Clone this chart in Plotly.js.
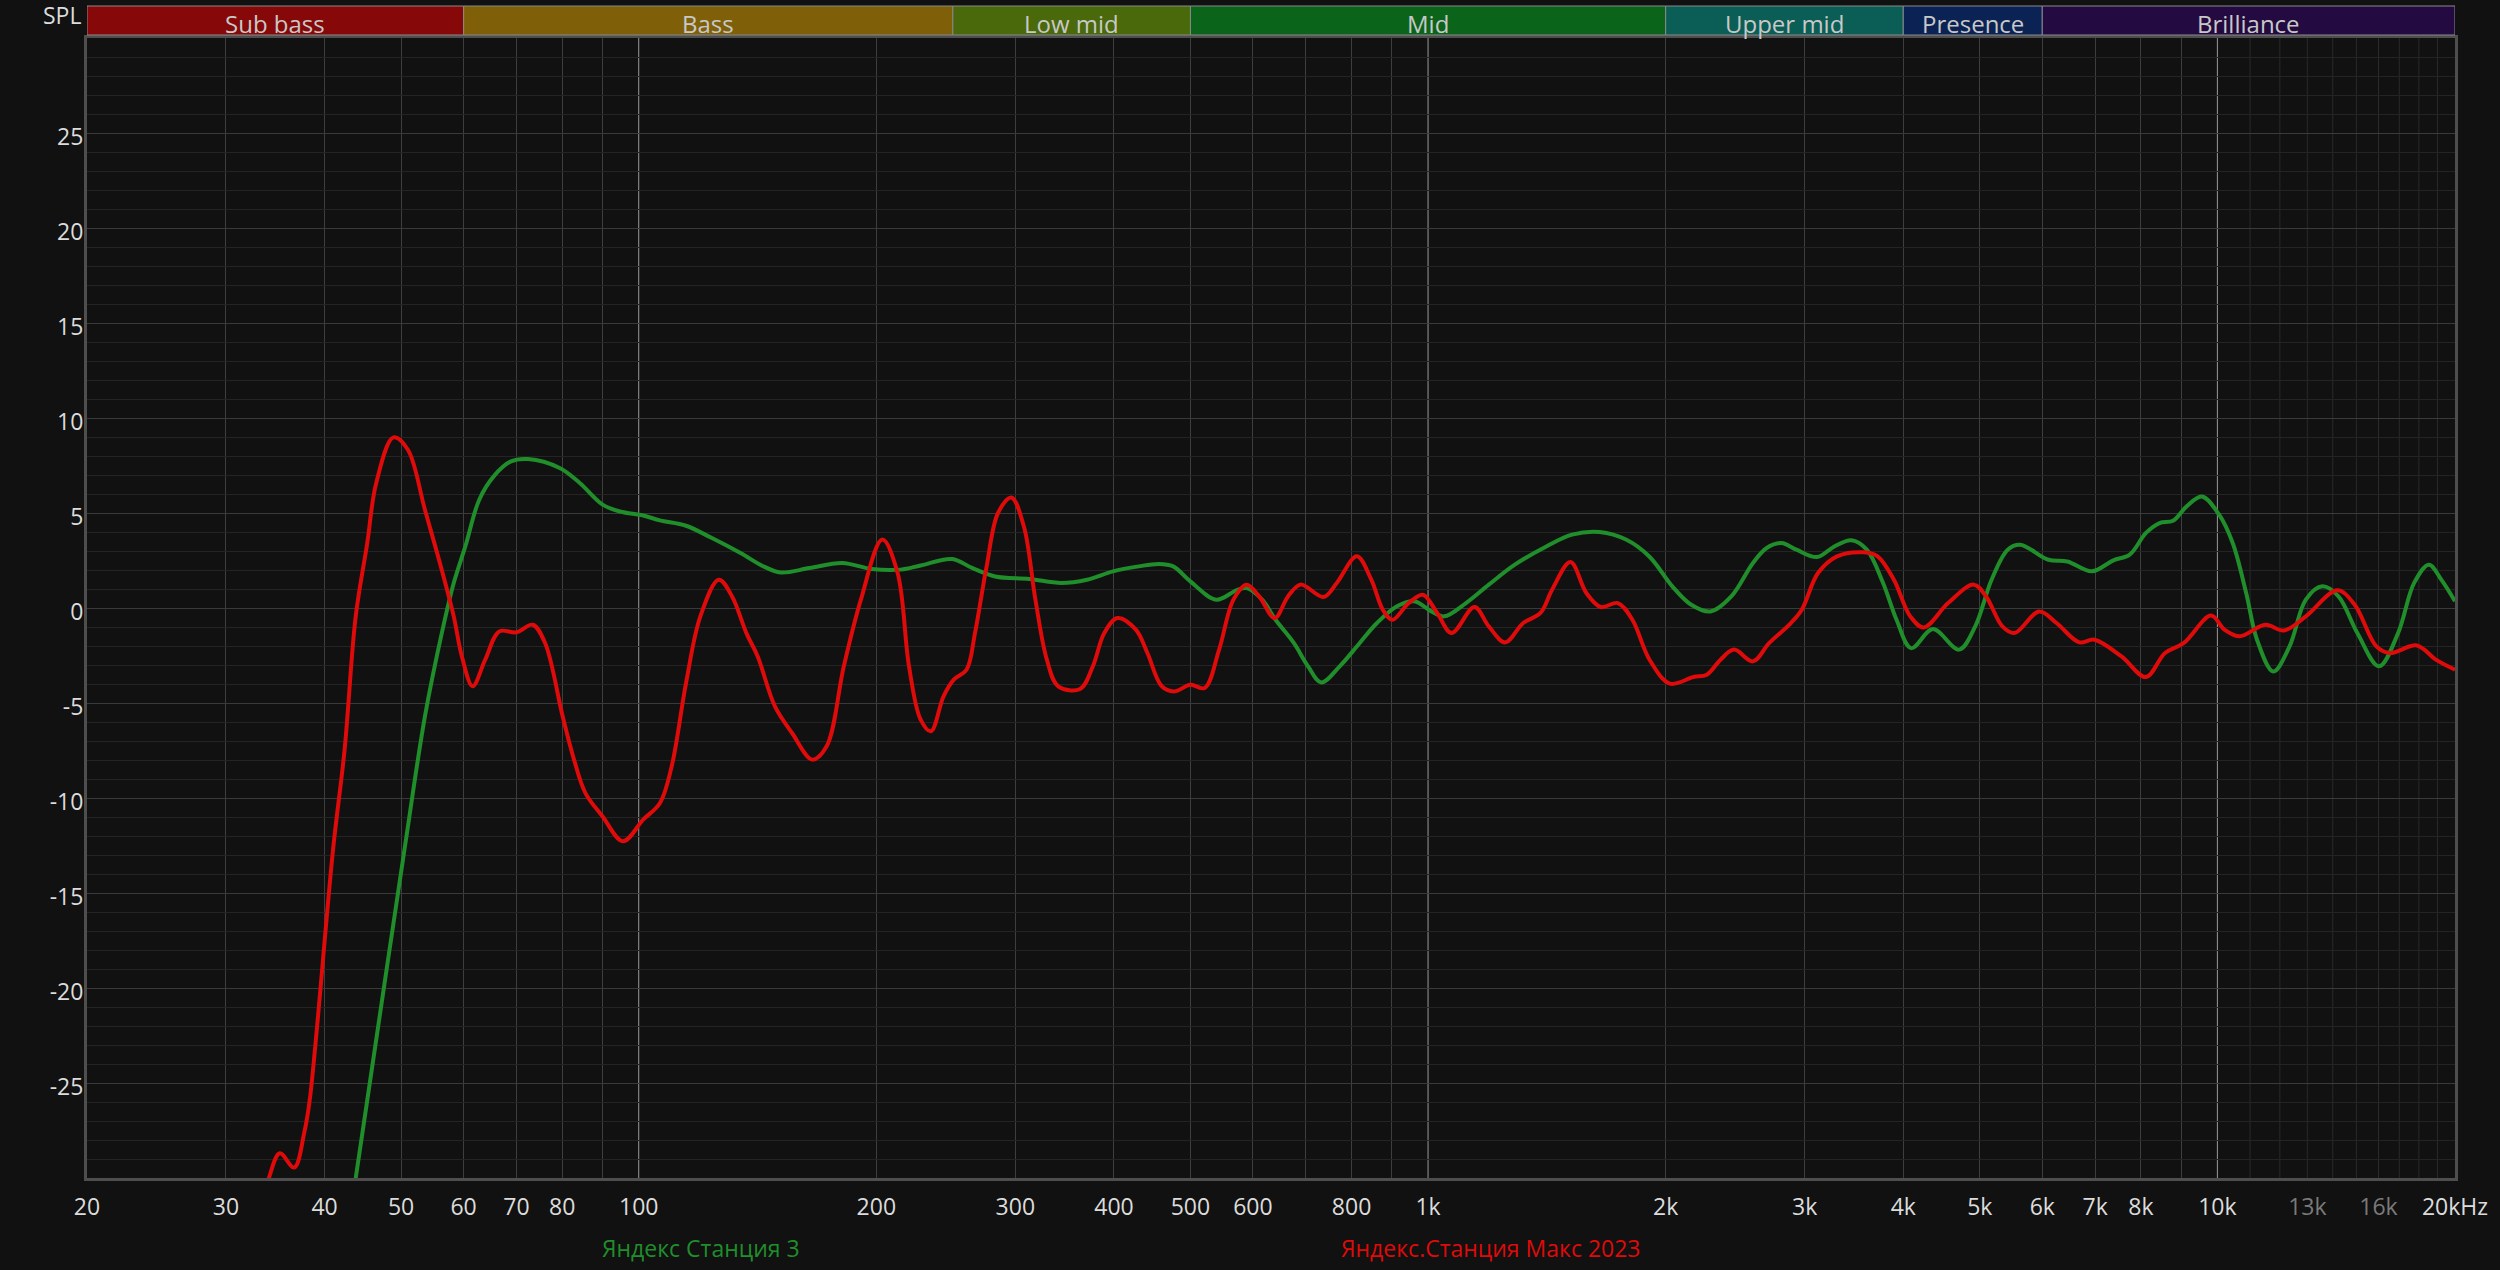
<!DOCTYPE html>
<html><head><meta charset="utf-8">
<script src="https://cdn.plot.ly/plotly-3.0.1.min.js"></script>
<style>html,body{margin:0;padding:0;background:#111111;}</style>
</head><body><div id="chart" style="width:2500px;height:1270px;"></div>
<script>
const seriesNames = ['Яндекс Станция 3', 'Яндекс.Станция Макс 2023'];
const seriesColors = ['#1f8e2b', '#df0a0a'];

const greenFreq = [43.0,43.8,45.3,50.5,53.6,56.3,58.3,60.3,62.8,65.5,68.9,72.4,79.4,84.2,90.0,94.7,101.3,106.4,114.8,123.8,134.6,143.9,151.3,164.5,181,197.4,214.7,227.6,249.5,264.4,282.9,312.7,342.9,369.8,398.8,429.9,455.9,475.4,499.9,539.1,571.6,589,616.3,641,675.9,704.7,732.3,772.7,819.3,861.5,913.4,960.4,1010,1048,1117,1194,1288,1412,1522,1650,1784,1908,2039,2150,2280,2422,2580,2685,2803,2929,3109,3271,3440,3596,3771,3922,4093,4362,4706,4934,5175,5425,5626,6108,6455,6931,7382,7744,8120,8448,8786,9142,9557,10051,10457,10876,11225,11771,12343,12943,13582,14236,15043,16025,16940,17754,18535,19216,20000];
const greenDb = [-32,-30,-25.9,-12.7,-5.7,-1.32,1.32,3.24,5.7,6.93,7.72,7.84,7.37,6.58,5.44,5.08,4.87,4.61,4.33,3.68,2.89,2.19,1.87,2.1,2.37,2.05,2.02,2.24,2.58,2.11,1.66,1.53,1.32,1.49,1.93,2.19,2.32,2.19,1.4,0.44,0.93,1.05,0.44,-0.62,-1.84,-3.07,-3.92,-3.07,-1.84,-0.79,0.09,0.35,-0.18,-0.44,0.26,1.23,2.28,3.24,3.86,4.0,3.59,2.7,1.14,0.2,-0.18,0.61,2.37,3.16,3.42,3.07,2.68,3.24,3.56,3.07,1.32,-0.62,-2.11,-1.11,-2.19,-0.97,1.49,3.07,3.33,2.54,2.45,1.93,2.51,2.81,3.95,4.47,4.59,5.35,5.87,4.91,3.42,0.79,-1.67,-3.34,-2.02,0.44,1.14,0.61,-1.32,-3.07,-1.32,1.32,2.28,1.49,0.35];

const redFreq = [33.0,34.0,35.1,36.6,37.7,38.3,41.0,42.4,43.8,45.3,46.5,48.9,51.0,53.6,56.3,58.3,59.7,61.6,63.9,66.6,70.0,73.4,76.1,80.1,82.8,85.6,90.0,95.5,101.3,106.4,110.1,114.8,119.7,126.3,131.3,136.9,141.5,148.8,156.4,165.9,173.0,181.9,191.2,203.5,212.8,220.0,227.6,234.5,243.3,250.7,260.2,266.7,275.9,285.2,296.5,307.6,318.1,328.9,340.0,362.4,376.1,388.9,404.2,426.4,441.0,459.9,477.1,499.9,521.2,543.6,566.8,589.0,611.1,639.3,664.6,689.5,737.1,766.2,812.4,847.4,876.3,901.3,944.8,984.9,1027,1071,1145,1194,1252,1320,1388,1436,1515,1587,1655,1740,1815,1908,2025,2169,2255,2347,2441,2580,2706,2882,2975,3119,3297,3567,3711,3892,4082,4246,4559,4912,5093,5341,5530,5948,6254,6685,6986,7560,8120,8583,9071,9815,10210,10673,11498,12148,12943,14192,14926,15900,16538,17892,18915,20000];
const redDb = [-32,-30,-28.7,-29.45,-27.6,-25.9,-12.7,-7.46,-0.44,3.42,6.58,8.98,8.33,5.17,2.0,-0.44,-2.55,-4.12,-2.72,-1.23,-1.28,-0.88,-1.84,-5.7,-7.98,-9.74,-10.97,-12.28,-11.14,-10.26,-8.33,-3.95,-0.44,1.49,0.61,-1.32,-2.55,-5.18,-6.58,-7.98,-7.28,-3.07,0.44,3.6,1.84,-3.07,-5.88,-6.49,-4.65,-3.77,-3.25,-1.32,2.19,5.0,5.82,4.29,0.44,-2.72,-4.12,-4.26,-3.07,-1.32,-0.53,-1.14,-2.37,-4.12,-4.39,-4.04,-4.21,-2.19,0.44,1.23,0.61,-0.53,0.61,1.23,0.58,1.32,2.72,1.49,-0.09,-0.62,0.26,0.7,-0.26,-1.32,0.05,-0.97,-1.81,-0.79,-0.26,0.96,2.42,0.79,0.05,0.26,-0.62,-2.72,-3.98,-3.63,-3.51,-2.72,-2.19,-2.81,-1.84,-0.79,-0.09,1.84,2.72,2.93,2.72,1.49,-0.44,-1.02,0.26,1.23,0.61,-0.97,-1.32,-0.18,-0.79,-1.81,-1.67,-2.55,-3.63,-2.37,-1.84,-0.4,-1.14,-1.49,-0.88,-1.18,-0.44,0.93,0.17,-2.02,-2.37,-1.97,-2.72,-3.25];

const xTickVals = [20,30,40,50,60,70,80,100,200,300,400,500,600,800,1000,2000,3000,4000,5000,6000,7000,8000,10000,13000,16000,20000];
const xTickText = ['20','30','40','50','60','70','80','100','200','300','400','500','600','800','1k','2k','3k','4k','5k','6k','7k','8k','10k',
  '<span style="color:#7a7a7a">13k</span>','<span style="color:#7a7a7a">16k</span>','20kHz'];
const xGridMid = [30,40,50,60,70,80,90,200,300,400,500,600,700,800,900,2000,3000,4000,5000,6000,7000,8000,9000];
const xGridMajor = [100,1000,10000];
const xGridHigh = [11000,12000,13000,14000,15000,16000,17000,18000,19000];
const yTickVals = [-25,-20,-15,-10,-5,0,5,10,15,20,25];
const yTickText = ['-25','-20','-15','-10','-5','0','5','10','15','20','25'];

const bandNames = ['Sub bass','Bass','Low mid','Mid','Upper mid','Presence','Brilliance'];
const bandEdges = [20,60,250,500,2000,4000,6000,20000];
const bandColors = ['#870808','#7f6009','#4a690a','#0a641a','#0a5e55','#0a2354','#230a40'];

const FONT = '"Open Sans", "Noto Sans", sans-serif';
const xRange = [Math.log10(20), Math.log10(20000)];
const bandY0 = 1 + 3/1140, bandY1 = 1 + 32/1140;

const traces = [
  {x: greenFreq, y: greenDb, name: seriesNames[0], type: 'scatter', mode: 'lines',
   line: {color: seriesColors[0], width: 4, shape: 'spline', smoothing: 1}},
  {x: redFreq, y: redDb, name: seriesNames[1], type: 'scatter', mode: 'lines',
   line: {color: seriesColors[1], width: 4, shape: 'spline', smoothing: 1}}
];

const shapes = [];
xGridHigh.forEach(v => shapes.push({type: 'line', xref: 'x', yref: 'paper', x0: v, x1: v, y0: 0, y1: 1,
  line: {color: '#2a2a2a', width: 1}, layer: 'below'}));
xGridMajor.forEach(v => shapes.push({type: 'line', xref: 'x', yref: 'paper', x0: v, x1: v, y0: 0, y1: 1,
  line: {color: '#9a9a9a', width: 1}, layer: 'below'}));
bandNames.forEach((n, i) => shapes.push({
  type: 'rect', xref: 'x', yref: 'paper', x0: bandEdges[i], x1: bandEdges[i+1], y0: bandY0, y1: bandY1,
  fillcolor: bandColors[i], line: {color: '#8a8a8a', width: 1}, layer: 'above'
}));

const annotations = bandNames.map((n, i) => ({
  xref: 'x', yref: 'paper', x: (Math.log10(bandEdges[i]) + Math.log10(bandEdges[i+1])) / 2,
  y: 1 + 14/1140, text: n, showarrow: false, xanchor: 'center', yanchor: 'middle',
  font: {family: FONT, size: 24, color: '#c8c8c8'}
}));
annotations.push({xref: 'paper', yref: 'paper', x: -0.0017, y: 1 + 23/1140, text: 'SPL', showarrow: false,
  xanchor: 'right', yanchor: 'middle', font: {family: FONT, size: 23, color: '#dcdcdc'}});
const legendX = [(701-87)/2368, (1491-87)/2368];
seriesNames.forEach((n, i) => annotations.push({xref: 'paper', yref: 'paper', x: legendX[i], y: -70/1140,
  text: n, showarrow: false, xanchor: 'center', yanchor: 'middle', font: {family: FONT, size: 23, color: seriesColors[i]}}));

const layout = {
  width: 2500, height: 1270,
  paper_bgcolor: '#111111', plot_bgcolor: '#111111',
  margin: {l: 87, r: 45, t: 38, b: 92},
  showlegend: false,
  font: {family: FONT, size: 23, color: '#dcdcdc'},
  xaxis: {
    type: 'log', range: xRange, fixedrange: true, zeroline: false, ticks: '',
    tickmode: 'array', tickvals: xTickVals, ticktext: xTickText, showgrid: false,
    minor: {tickmode: 'array', tickvals: xGridMid, showgrid: true, gridcolor: '#3e3e3e', gridwidth: 1, ticks: ''},
    showline: true, mirror: true, linecolor: '#4e4e4e', linewidth: 3,
    tickfont: {family: FONT, size: 23, color: '#dcdcdc'}, ticklabelstandoff: 6
  },
  yaxis: {
    range: [-30, 30], fixedrange: true, zeroline: false, ticks: '',
    tickmode: 'array', tickvals: yTickVals, ticktext: yTickText,
    showgrid: true, gridcolor: '#3a3a3a', gridwidth: 1,
    minor: {dtick: 1, showgrid: true, gridcolor: '#242424', gridwidth: 1, ticks: ''},
    showline: true, mirror: true, linecolor: '#4e4e4e', linewidth: 3,
    tickfont: {family: FONT, size: 23, color: '#dcdcdc'}, ticklabelstandoff: -4, ticklabelshift: 4
  },
  shapes: shapes,
  annotations: annotations
};

Plotly.newPlot('chart', traces, layout, {displayModeBar: false, staticPlot: true});
</script></body></html>
